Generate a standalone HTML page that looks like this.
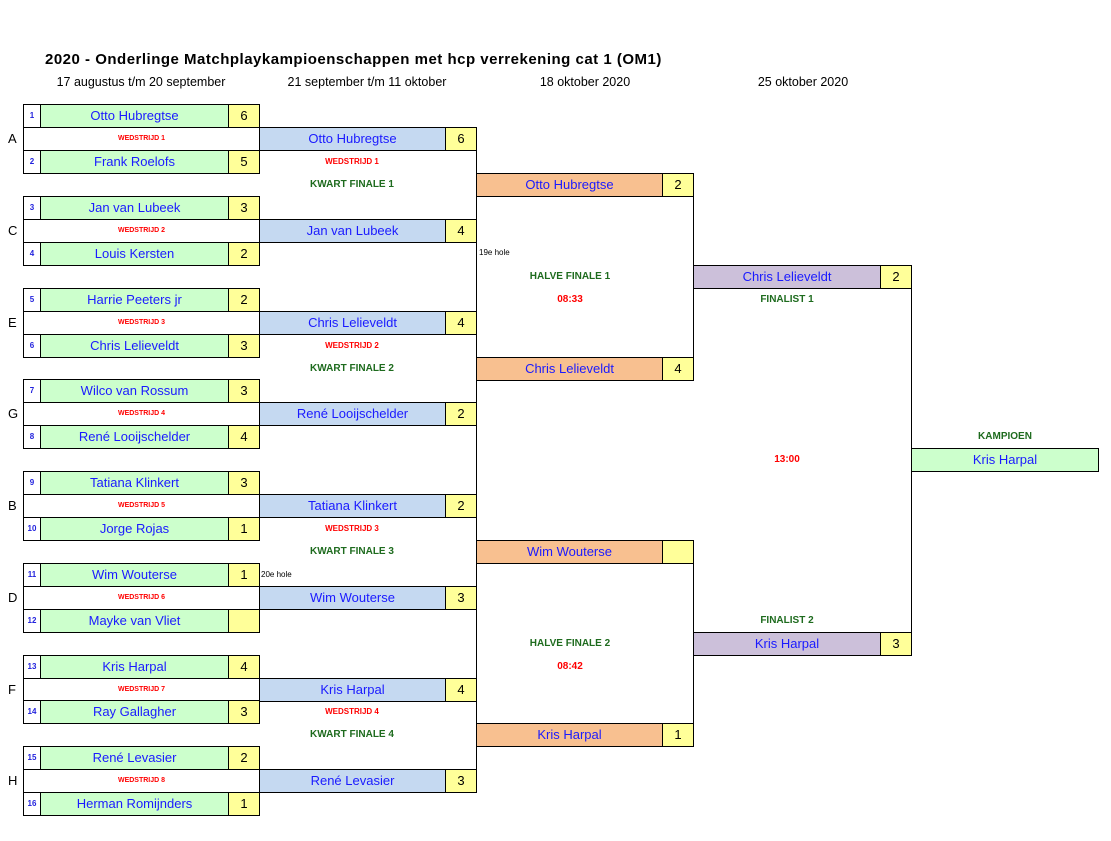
<!DOCTYPE html>
<html><head><meta charset="utf-8"><style>
body{margin:0;width:1111px;height:841px;background:#fff;position:relative;overflow:hidden;font-family:"Liberation Sans",sans-serif}
.c{position:absolute;box-sizing:border-box;border:1px solid #000;height:24px;line-height:22px;text-align:center;font-size:13px;color:#1a1aff;white-space:nowrap;overflow:hidden}
.n{width:18px;font-size:8px;font-weight:bold;color:#2222dd;background:#fff;display:flex;align-items:center;justify-content:center;line-height:1}
.g{background:#ccffcc;width:189px;left:40px}
.y{background:#ffff99;color:#000}
.w{background:#fff;left:23px;width:237px;font-size:7px;font-weight:bold;color:#ff0000;line-height:22px}
.b{background:#c5d9f1;left:259px;width:187px}
.o{background:#f8c090;left:476px;width:187px}
.p{background:#ccc0da;left:693px;width:188px}
.l{position:absolute;font-size:10px;font-weight:bold;text-align:center;width:200px;line-height:23px}
.s{font-size:8px}
.gr{color:#1e6b1e}.rd{color:#ff0000}
.v{position:absolute;border-left:1px solid #000;width:0}
.L{position:absolute;left:8px;font-size:13px;width:12px;line-height:23px}
.h{position:absolute;top:75px;font-size:12.5px;width:240px;text-align:center;color:#000}
</style></head><body>
<div style="position:absolute;left:45px;top:51px;font-size:15px;font-weight:bold;letter-spacing:0.5px">2020 - Onderlinge Matchplaykampioenschappen met hcp verrekening cat 1 (OM1)</div>
<div class="h" style="left:21px">17 augustus t/m 20 september</div>
<div class="h" style="left:247px">21 september t/m 11 oktober</div>
<div class="h" style="left:465px">18 oktober 2020</div>
<div class="h" style="left:683px">25 oktober 2020</div>

<div class="v" style="left:476px;top:127px;height:465px"></div>
<div class="v" style="left:476px;top:494px;height:298px"></div>
<div class="v" style="left:693px;top:173px;height:207px"></div>
<div class="v" style="left:693px;top:540px;height:207px"></div>
<div class="v" style="left:911px;top:265px;height:390px"></div>

<div class="L" style="top:127px">A</div>
<div class="c w" style="top:127px">WEDSTRIJD 1</div>
<div class="c n" style="left:23px;top:104px">1</div><div class="c g" style="top:104px">Otto Hubregtse</div><div class="c y" style="left:228px;width:32px;top:104px">6</div>
<div class="c n" style="left:23px;top:150px">2</div><div class="c g" style="top:150px">Frank Roelofs</div><div class="c y" style="left:228px;width:32px;top:150px">5</div>
<div class="L" style="top:219px">C</div>
<div class="c w" style="top:219px">WEDSTRIJD 2</div>
<div class="c n" style="left:23px;top:196px">3</div><div class="c g" style="top:196px">Jan van Lubeek</div><div class="c y" style="left:228px;width:32px;top:196px">3</div>
<div class="c n" style="left:23px;top:242px">4</div><div class="c g" style="top:242px">Louis Kersten</div><div class="c y" style="left:228px;width:32px;top:242px">2</div>
<div class="L" style="top:311px">E</div>
<div class="c w" style="top:311px">WEDSTRIJD 3</div>
<div class="c n" style="left:23px;top:288px">5</div><div class="c g" style="top:288px">Harrie Peeters jr</div><div class="c y" style="left:228px;width:32px;top:288px">2</div>
<div class="c n" style="left:23px;top:334px">6</div><div class="c g" style="top:334px">Chris Lelieveldt</div><div class="c y" style="left:228px;width:32px;top:334px">3</div>
<div class="L" style="top:402px">G</div>
<div class="c w" style="top:402px">WEDSTRIJD 4</div>
<div class="c n" style="left:23px;top:379px">7</div><div class="c g" style="top:379px">Wilco van Rossum</div><div class="c y" style="left:228px;width:32px;top:379px">3</div>
<div class="c n" style="left:23px;top:425px">8</div><div class="c g" style="top:425px">René Looijschelder</div><div class="c y" style="left:228px;width:32px;top:425px">4</div>
<div class="L" style="top:494px">B</div>
<div class="c w" style="top:494px">WEDSTRIJD 5</div>
<div class="c n" style="left:23px;top:471px">9</div><div class="c g" style="top:471px">Tatiana Klinkert</div><div class="c y" style="left:228px;width:32px;top:471px">3</div>
<div class="c n" style="left:23px;top:517px">10</div><div class="c g" style="top:517px">Jorge Rojas</div><div class="c y" style="left:228px;width:32px;top:517px">1</div>
<div class="L" style="top:586px">D</div>
<div class="c w" style="top:586px">WEDSTRIJD 6</div>
<div class="c n" style="left:23px;top:563px">11</div><div class="c g" style="top:563px">Wim Wouterse</div><div class="c y" style="left:228px;width:32px;top:563px">1</div>
<div class="c n" style="left:23px;top:609px">12</div><div class="c g" style="top:609px">Mayke van Vliet</div><div class="c y" style="left:228px;width:32px;top:609px"></div>
<div class="L" style="top:678px">F</div>
<div class="c w" style="top:678px">WEDSTRIJD 7</div>
<div class="c n" style="left:23px;top:655px">13</div><div class="c g" style="top:655px">Kris Harpal</div><div class="c y" style="left:228px;width:32px;top:655px">4</div>
<div class="c n" style="left:23px;top:700px">14</div><div class="c g" style="top:700px">Ray Gallagher</div><div class="c y" style="left:228px;width:32px;top:700px">3</div>
<div class="L" style="top:769px">H</div>
<div class="c w" style="top:769px">WEDSTRIJD 8</div>
<div class="c n" style="left:23px;top:746px">15</div><div class="c g" style="top:746px">René Levasier</div><div class="c y" style="left:228px;width:32px;top:746px">2</div>
<div class="c n" style="left:23px;top:792px">16</div><div class="c g" style="top:792px">Herman Romijnders</div><div class="c y" style="left:228px;width:32px;top:792px">1</div>

<div class="c b" style="top:127px">Otto Hubregtse</div><div class="c y" style="left:445px;width:32px;top:127px">6</div>
<div class="c b" style="top:219px">Jan van Lubeek</div><div class="c y" style="left:445px;width:32px;top:219px">4</div>
<div class="c b" style="top:311px">Chris Lelieveldt</div><div class="c y" style="left:445px;width:32px;top:311px">4</div>
<div class="c b" style="top:402px">René Looijschelder</div><div class="c y" style="left:445px;width:32px;top:402px">2</div>
<div class="c b" style="top:494px">Tatiana Klinkert</div><div class="c y" style="left:445px;width:32px;top:494px">2</div>
<div class="c b" style="top:586px">Wim Wouterse</div><div class="c y" style="left:445px;width:32px;top:586px">3</div>
<div class="c b" style="top:678px">Kris Harpal</div><div class="c y" style="left:445px;width:32px;top:678px">4</div>
<div class="c b" style="top:769px">René Levasier</div><div class="c y" style="left:445px;width:32px;top:769px">3</div>

<div class="l rd s" style="left:252px;top:150px">WEDSTRIJD 1</div>
<div class="l gr" style="left:252px;top:173px">KWART FINALE 1</div>
<div class="l rd s" style="left:252px;top:334px">WEDSTRIJD 2</div>
<div class="l gr" style="left:252px;top:357px">KWART FINALE 2</div>
<div class="l rd s" style="left:252px;top:517px">WEDSTRIJD 3</div>
<div class="l gr" style="left:252px;top:540px">KWART FINALE 3</div>
<div class="l rd s" style="left:252px;top:700px">WEDSTRIJD 4</div>
<div class="l gr" style="left:252px;top:723px">KWART FINALE 4</div>
<div style="position:absolute;left:479px;top:248px;font-size:8px">19e hole</div>
<div style="position:absolute;left:261px;top:570px;font-size:8px">20e hole</div>

<div class="c o" style="top:173px">Otto Hubregtse</div><div class="c y" style="left:662px;width:32px;top:173px">2</div>
<div class="c o" style="top:357px">Chris Lelieveldt</div><div class="c y" style="left:662px;width:32px;top:357px">4</div>
<div class="c o" style="top:540px">Wim Wouterse</div><div class="c y" style="left:662px;width:32px;top:540px"></div>
<div class="c o" style="top:723px">Kris Harpal</div><div class="c y" style="left:662px;width:32px;top:723px">1</div>
<div class="l gr" style="left:470px;top:265px">HALVE FINALE 1</div>
<div class="l rd" style="left:470px;top:288px">08:33</div>
<div class="l gr" style="left:470px;top:632px">HALVE FINALE 2</div>
<div class="l rd" style="left:470px;top:655px">08:42</div>

<div class="c p" style="top:265px">Chris Lelieveldt</div><div class="c y" style="left:880px;width:32px;top:265px">2</div>
<div class="c p" style="top:632px">Kris Harpal</div><div class="c y" style="left:880px;width:32px;top:632px">3</div>
<div class="l gr" style="left:687px;top:288px">FINALIST 1</div>
<div class="l gr" style="left:687px;top:609px">FINALIST 2</div>
<div class="l rd" style="left:687px;top:448px">13:00</div>

<div class="l gr" style="left:905px;top:425px">KAMPIOEN</div>
<div class="c" style="left:911px;width:188px;top:448px;background:#ccffcc">Kris Harpal</div>
</body></html>
